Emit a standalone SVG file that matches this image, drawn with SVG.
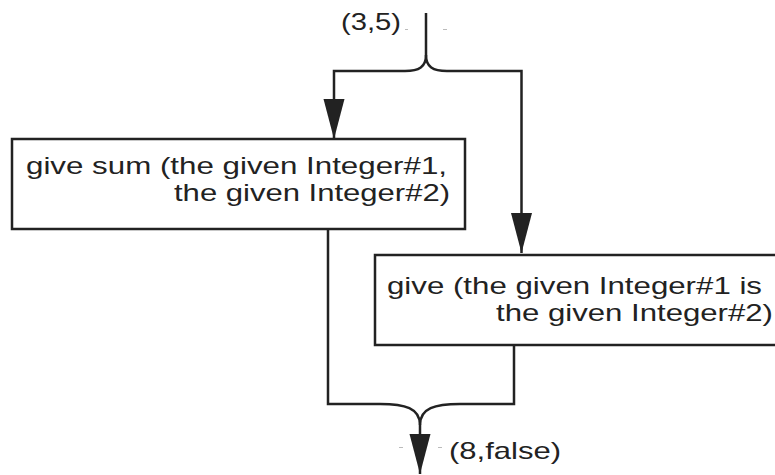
<svg xmlns="http://www.w3.org/2000/svg" width="775" height="475" viewBox="0 0 775 475">
<style>
  .box { fill: #fff; stroke: #222; stroke-width: 2.5; }
  .lbl { font-family: "Liberation Sans", Arial, sans-serif; font-size: 24px; fill: #222; }
  .wire { fill: none; stroke: #222; stroke-width: 2.5; }
  .tick { stroke: #bbb; stroke-width: 1; }
</style>
<defs>
  <marker id="arr" markerUnits="userSpaceOnUse" markerWidth="40" markerHeight="22" refX="40" refY="10.5" orient="auto">
    <path d="M0,0 L40,10.5 L0,21 z" fill="#222"/>
  </marker>
</defs>
<rect width="775" height="475" fill="#fff"/>
<g id="connectors">
  <path class="wire" d="M426,13 V55 C426,67 419,71 405,71 H334 V139" marker-end="url(#arr)"/>
  <path class="wire" d="M426,55 C426,67 433,71 447,71 H521.5 V253" marker-end="url(#arr)"/>
  <path class="wire" d="M328,229 V404 H380 C405,404 420,408 420,425 V474" marker-end="url(#arr)"/>
  <path class="wire" d="M514,345 V404 H460 C435,404 420,408 420,425"/>
</g>
<g id="in-label">
  <text class="lbl" x="341" y="30" textLength="60" lengthAdjust="spacingAndGlyphs">(3,5)</text>
  <line class="tick" x1="405" y1="29.5" x2="408" y2="29.5"/>
  <line class="tick" x1="443" y1="29.5" x2="447" y2="29.5"/>
</g>
<g id="sum">
  <rect class="box" x="12" y="139" width="453" height="90"/>
  <text class="lbl" x="26" y="174" textLength="421" lengthAdjust="spacingAndGlyphs">give sum (the given Integer#1,</text>
  <text class="lbl" x="174" y="201" textLength="276" lengthAdjust="spacingAndGlyphs">the given Integer#2)</text>
</g>
<g id="is">
  <rect class="box" x="375" y="255" width="410" height="90"/>
  <text class="lbl" x="387" y="294" textLength="375" lengthAdjust="spacingAndGlyphs">give (the given Integer#1 is</text>
  <text class="lbl" x="496" y="321" textLength="277" lengthAdjust="spacingAndGlyphs">the given Integer#2)</text>
</g>
<g id="out-label">
  <line class="tick" x1="399" y1="447.5" x2="403" y2="447.5"/>
  <line class="tick" x1="438" y1="447.5" x2="442" y2="447.5"/>
  <text class="lbl" x="449" y="459" textLength="112" lengthAdjust="spacingAndGlyphs">(8,false)</text>
</g>
</svg>
